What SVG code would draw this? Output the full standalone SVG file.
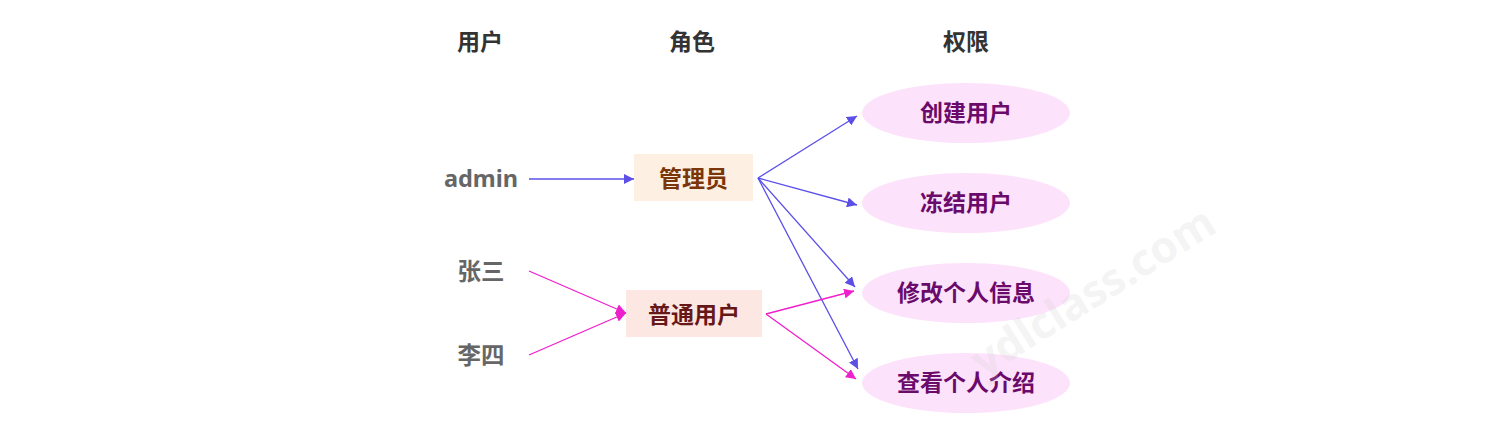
<svg xmlns="http://www.w3.org/2000/svg" width="1512" height="436" viewBox="0 0 1512 436">
<style>
text{font-family:"Noto Sans","Noto Sans CJK SC",sans-serif;font-weight:bold;text-anchor:middle;dominant-baseline:central}
.hd{font-size:23px;fill:#333}
.user{font-size:23.5px;fill:#666}
.perm{fill:#fde2fb}
.ptxt{font-size:23px;fill:#6a0a6a}
.blue{stroke:#5b4fe8;stroke-width:1.3;fill:none;marker-end:url(#ab)}
.pink{stroke:#ee1fcc;stroke-width:1.3;fill:none;marker-end:url(#ap)}
</style>
<defs>
<marker id="ab" viewBox="0 0 10 10" refX="10" refY="5" markerWidth="10" markerHeight="10" markerUnits="userSpaceOnUse" orient="auto"><path d="M0,0 L10,5 L0,10 z" fill="#5b4fe8"/></marker>
<marker id="ap" viewBox="0 0 10 10" refX="10" refY="5" markerWidth="10" markerHeight="10" markerUnits="userSpaceOnUse" orient="auto"><path d="M0,0 L10,5 L0,10 z" fill="#ee1fcc"/></marker>
</defs>
<g id="headers">
<text class="hd" x="480" y="41">用户</text>
<text class="hd" x="692" y="41">角色</text>
<text class="hd" x="966" y="41">权限</text>
</g>
<g id="u-admin"><text class="user" x="481" y="178">admin</text></g>
<g id="u-zhangsan"><text class="user" x="481" y="271">张三</text></g>
<g id="u-lisi"><text class="user" x="481" y="355">李四</text></g>
<g id="r-admin"><rect x="634" y="154" width="119" height="47" fill="#fdefe2"/><text x="693.5" y="178" style="font-size:23px;fill:#7a3608">管理员</text></g>
<g id="r-user"><rect x="626" y="290" width="136" height="47" fill="#fde7e3"/><text x="694" y="314" style="font-size:23px;fill:#661818">普通用户</text></g>
<g id="p1"><ellipse class="perm" cx="966" cy="113" rx="104" ry="30"/><text class="ptxt" x="966" y="112">创建用户</text></g>
<g id="p2"><ellipse class="perm" cx="966" cy="203" rx="104" ry="30"/><text class="ptxt" x="966" y="202">冻结用户</text></g>
<g id="p3"><ellipse class="perm" cx="966" cy="293" rx="104" ry="30"/><text class="ptxt" x="966" y="292">修改个人信息</text></g>
<g id="p4"><ellipse class="perm" cx="966" cy="383" rx="104" ry="30"/><text class="ptxt" x="966" y="382">查看个人介绍</text></g>
<g id="connectors">
<line class="blue" x1="529" y1="179" x2="634" y2="179"/>
<line class="blue" x1="758" y1="178" x2="857" y2="116"/>
<line class="blue" x1="758" y1="178" x2="857" y2="205"/>
<line class="blue" x1="758" y1="178" x2="855" y2="287"/>
<line class="blue" x1="758" y1="178" x2="858" y2="369"/>
<line class="pink" x1="529" y1="271" x2="626" y2="313"/>
<line class="pink" x1="529" y1="355" x2="626" y2="313"/>
<line class="pink" x1="766" y1="314" x2="854" y2="291"/>
<line class="pink" x1="766" y1="314" x2="856" y2="379"/>
</g>
<text x="1092" y="290" transform="rotate(-32 1092 290)" style="font-size:44px;fill:#c8c8c8;fill-opacity:0.2;font-family:'Noto Sans',sans-serif">ydlclass.com</text>
</svg>
